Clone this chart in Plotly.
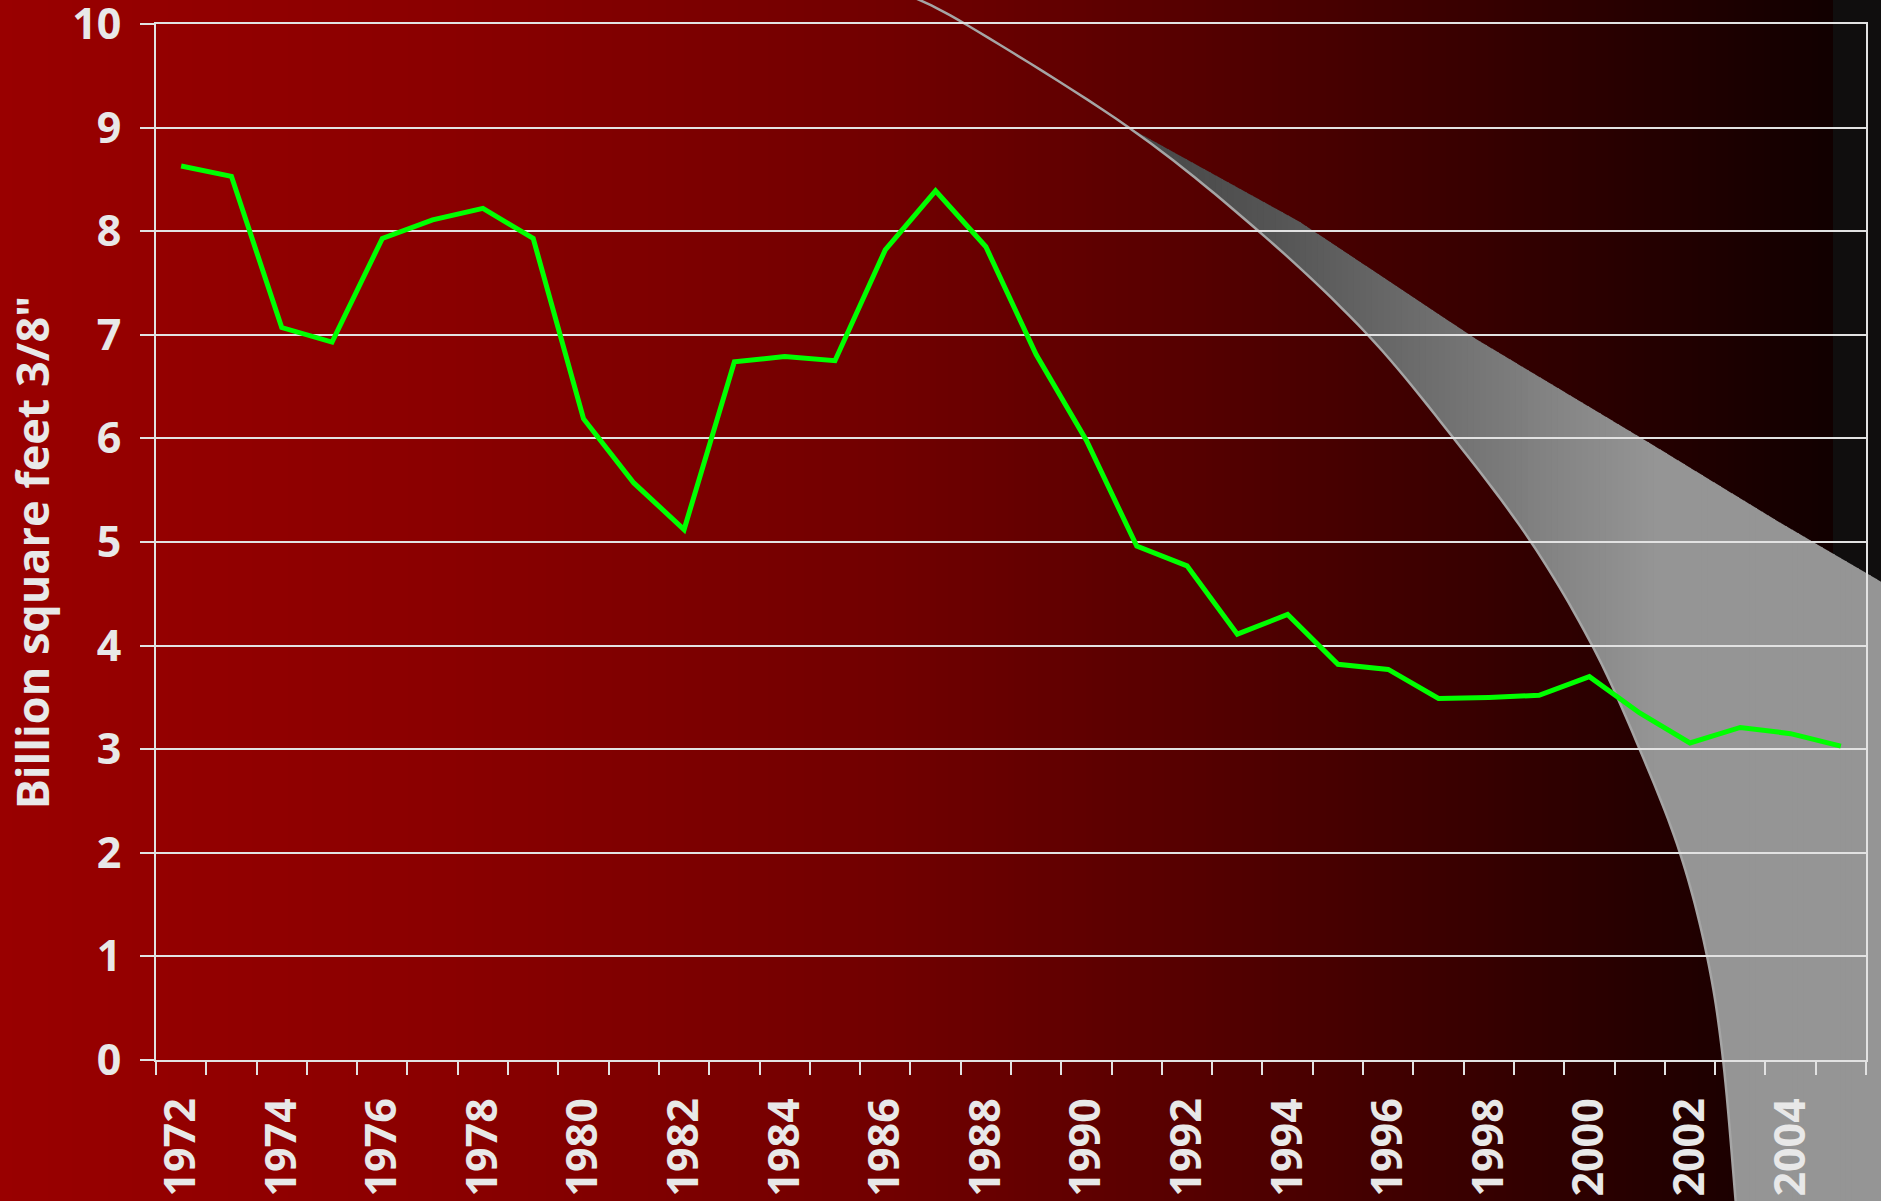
import numpy as np
import plotly.graph_objects as go

# plywood production, billion square feet (3/8" basis)
years = [str(y) for y in range(1972, 2006)]
area = [8.63, 8.53, 7.07, 6.93, 7.93, 8.11, 8.22, 7.93, 6.19, 5.57,
        5.12, 6.74, 6.79, 6.75, 7.82, 8.39, 7.85, 6.81, 5.98, 4.96,
        4.77, 4.11, 4.30, 3.82, 3.77, 3.49, 3.50, 3.52, 3.70, 3.35,
        3.06, 3.21, 3.15, 3.03]
tick_text = [y if int(y) % 2 == 0 else "" for y in years]
y_ticks = list(range(0, 11))

W, H = 1881, 1201
L, R, T, B = 156, 15, 24, 141
PW, PH = W - L - R, H - T - B


def px(x):
    return (x - L) / PW


def py(y):
    return (H - B - y) / PH


def path_of(pts, close=True):
    s = "M " + " L ".join(f"{px(x):.5f},{py(y):.5f}" for x, y in pts)
    return s + (" Z" if close else "")


def catmull(pts, n=12):
    out = []
    p = [pts[0]] + pts + [pts[-1]]
    for i in range(1, len(p) - 2):
        p0, p1, p2, p3 = map(np.array, (p[i - 1], p[i], p[i + 1], p[i + 2]))
        for t in np.linspace(0, 1, n, endpoint=False):
            out.append(tuple(0.5 * ((2 * p1) + (-p0 + p2) * t + (2 * p0 - 5 * p1 + 4 * p2 - p3) * t ** 2
                                     + (-p0 + 3 * p1 - 3 * p2 + p3) * t ** 3)))
    out.append(pts[-1])
    return out


def clip(poly, xa, xb):
    def cut(pts, keep, xc):
        res = []
        for i in range(len(pts)):
            a, b = pts[i - 1], pts[i]
            ia, ib = keep(a[0]), keep(b[0])
            if ib:
                if not ia:
                    t = (xc - a[0]) / (b[0] - a[0])
                    res.append((xc, a[1] + t * (b[1] - a[1])))
                res.append(b)
            elif ia:
                t = (xc - a[0]) / (b[0] - a[0])
                res.append((xc, a[1] + t * (b[1] - a[1])))
        return res
    poly = cut(poly, lambda x: x >= xa, xa)
    if not poly:
        return []
    return cut(poly, lambda x: x <= xb, xb)


shapes = []

# red-to-black background
bg_x = [0, 450, 900, 1200, 1500, 1833]
bg_r = [153, 138, 112, 85, 53, 17]
step = 6
for x0 in range(0, 1834, step):
    r = int(round(np.interp(x0 + step / 2, bg_x, bg_r)))
    shapes.append(dict(type="rect", xref="paper", yref="paper", layer="below",
                       x0=px(x0), x1=px(min(x0 + step + 1, 1834)), y0=py(H + 2), y1=py(-2),
                       line_width=0, fillcolor=f"rgb({r},0,0)"))
shapes.append(dict(type="rect", xref="paper", yref="paper", layer="below",
                   x0=px(1833), x1=px(W + 2), y0=py(H + 2), y1=py(-2),
                   line_width=0, fillcolor="rgb(16,14,14)"))

# grey swoosh
arc = [(906, -6), (967, 25), (1128, 127), (1255, 228), (1366, 333), (1455, 440),
       (1531, 542), (1593, 647), (1640, 750), (1680, 853), (1707, 956), (1723, 1059), (1736, 1205)]
upper = [(1128, 127), (1300, 222), (1476, 339), (1648, 442), (1779, 522), (1885, 584)]
arc_d = catmull(arc)
tip = arc_d.index(arc[2])
poly = arc_d[tip:] + [(1885, 1205)] + upper[::-1][:-1]

g_x = [1128, 1280, 1400, 1500, 1600, 1660, 1900]
g_v = [70, 85, 105, 122, 140, 149, 149]
for x0 in range(1126, 1886, step):
    part = clip(poly, x0, x0 + step + 1)
    if len(part) < 3:
        continue
    g = int(round(np.interp(x0 + step / 2, g_x, g_v)))
    shapes.append(dict(type="path", xref="paper", yref="paper", layer="below",
                       path=path_of(part), line_width=0, fillcolor=f"rgb({g},{g},{g})"))

shapes.append(dict(type="path", xref="paper", yref="paper", layer="below",
                   path=path_of(arc_d, close=False), line=dict(color="rgb(165,165,165)", width=2.5)))

fig = go.Figure()
fig.add_trace(go.Scatter(x=years, y=area, mode="lines",
                         line=dict(color="#00ff00", width=5), showlegend=False))

grid = "#e2e2e2"
tick_font = dict(family="Open Sans", size=43, color="#e8e8e8", weight="bold")

fig.update_layout(width=W, height=H,
                  margin=dict(l=L, r=R, t=T, b=B, autoexpand=False),
                  paper_bgcolor="#990000",
                  plot_bgcolor="rgba(0,0,0,0)",
                  shapes=shapes,
                  annotations=[dict(text="Billion square feet 3/8\"",
                                    x=px(31), y=0.49, xref="paper", yref="paper",
                                    xanchor="center", yanchor="middle",
                                    textangle=-90, showarrow=False,
                                    font=dict(family="Open Sans", size=45, color="#e8e8e8", weight="bold"))])

fig.update_xaxes(type="category", range=[-0.5, len(years) - 0.5],
                 tickmode="array", tickvals=years, ticktext=tick_text,
                 tickson="boundaries", ticks="outside", ticklen=13, tickwidth=2, tickcolor=grid,
                 showline=True, linecolor=grid, linewidth=2, mirror=True, showgrid=False,
                 tickangle=-90, tickfont=tick_font, ticklabelstandoff=19)
fig.update_yaxes(range=[0, 10], tickmode="array", tickvals=y_ticks,
                 ticks="outside", ticklen=14, tickwidth=2, tickcolor=grid,
                 showline=True, linecolor=grid, linewidth=2, mirror=True,
                 gridcolor=grid, gridwidth=2, zeroline=False,
                 tickfont=tick_font, ticklabelstandoff=10, ticklabeloverflow="allow")

fig.write_html("out.html", config={"displayModeBar": False},
               post_script="document.body.style.margin = '0';")
